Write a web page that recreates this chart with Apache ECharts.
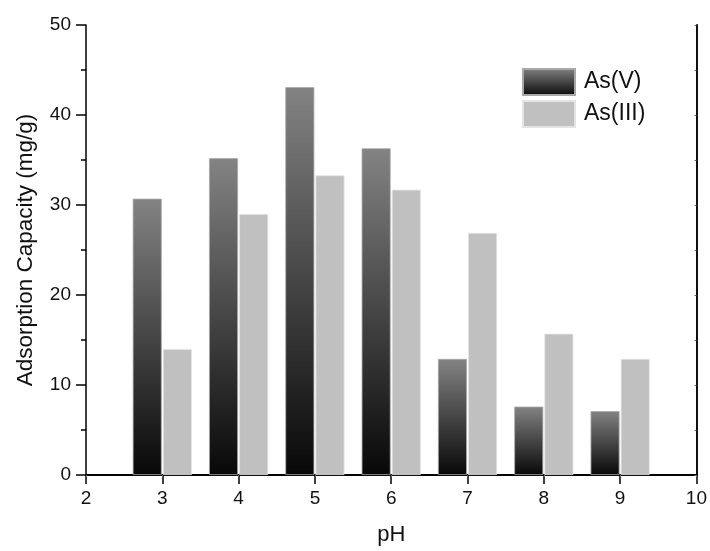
<!DOCTYPE html>
<html>
<head>
<meta charset="utf-8">
<script src="https://cdn.jsdelivr.net/npm/echarts@6/dist/echarts.min.js"></script>
<style>html,body{margin:0;padding:0;background:#fff;}#c{width:710px;height:551px;}</style>
</head>
<body>
<div id="c"></div>
<script>
const pH = [3, 4, 5, 6, 7, 8, 9];
const asV = [30.7, 35.2, 43.1, 36.3, 12.9, 7.6, 7.1];
const asIII = [14.0, 29.0, 33.3, 31.7, 26.9, 15.7, 12.9];
const seriesNames = ['As(V)', 'As(III)'];

const font = 'Liberation Sans, Arial, sans-serif';
const chart = echarts.init(document.getElementById('c'), null, {renderer: 'canvas'});
const gradV = new echarts.graphic.LinearGradient(0, 0, 0, 1, [
  {offset: 0, color: '#838383'},
  {offset: 1, color: '#080808'}
]);
chart.setOption({
  animation: false,
  backgroundColor: '#fff',
  grid: {left: 86, right: 13, top: 25, bottom: 74},
  legend: {
    orient: 'vertical', left: 522, top: 68, padding: 0,
    itemWidth: 52, itemHeight: 26, itemGap: 4,
    icon: 'rect',
    textStyle: {fontFamily: font, fontSize: 23, color: '#111', padding: [0, 0, 0, 4]},
    data: seriesNames
  },
  xAxis: [{
    type: 'value', min: 2, max: 10, interval: 1, position: 'bottom',
    name: 'pH', nameLocation: 'middle', nameGap: 49,
    nameTextStyle: {fontFamily: font, fontSize: 22, color: '#111'},
    axisLine: {show: true, onZero: false, lineStyle: {color: '#000', width: 2}},
    axisTick: {show: true, inside: false, length: 9, lineStyle: {color: '#000', width: 1.5}},
    axisLabel: {fontFamily: font, fontSize: 19, color: '#111', margin: 14},
    splitLine: {show: false}
  }, {
    type: 'value', min: 2, max: 10, interval: 1, position: 'top',
    axisLine: {show: true, lineStyle: {color: '#000', width: 1.2}},
    axisTick: {show: true, inside: true, length: 2, lineStyle: {color: '#666', width: 1}},
    axisLabel: {show: false}, splitLine: {show: false}
  }],
  yAxis: [{
    type: 'value', min: 0, max: 50, interval: 10, position: 'left',
    name: 'Adsorption Capacity (mg/g)', nameLocation: 'middle', nameGap: 49,
    nameTextStyle: {fontFamily: font, fontSize: 22.5, color: '#111'},
    axisLine: {show: true, lineStyle: {color: '#000', width: 1.5}},
    axisTick: {show: true, inside: false, length: 10, lineStyle: {color: '#000', width: 1.5}},
    minorTick: {show: true, splitNumber: 2, length: 5, lineStyle: {color: '#000', width: 1.5}},
    axisLabel: {fontFamily: font, fontSize: 19, color: '#111', margin: 15},
    splitLine: {show: false}, minorSplitLine: {show: false}
  }, {
    type: 'value', min: 0, max: 50, interval: 10, position: 'right',
    axisLine: {show: true, lineStyle: {color: '#111', width: 2}},
    axisTick: {show: true, inside: true, length: 2, lineStyle: {color: '#666', width: 1}},
    minorTick: {show: true, splitNumber: 2, length: 2, lineStyle: {color: '#666', width: 1}},
    axisLabel: {show: false}, splitLine: {show: false}
  }],
  series: [{
    name: seriesNames[0], type: 'bar', xAxisIndex: 0, yAxisIndex: 0,
    barWidth: 29, barGap: '4%',
    itemStyle: {color: gradV, borderColor: '#a8a8a8', borderWidth: 0.8},
    data: pH.map((x, i) => [x, asV[i]])
  }, {
    name: seriesNames[1], type: 'bar', xAxisIndex: 0, yAxisIndex: 0,
    barWidth: 29, barGap: '4%',
    itemStyle: {color: '#c0c0c0', borderColor: '#e4e4e4', borderWidth: 0.8},
    data: pH.map((x, i) => [x, asIII[i]])
  }]
});
</script>
</body>
</html>
